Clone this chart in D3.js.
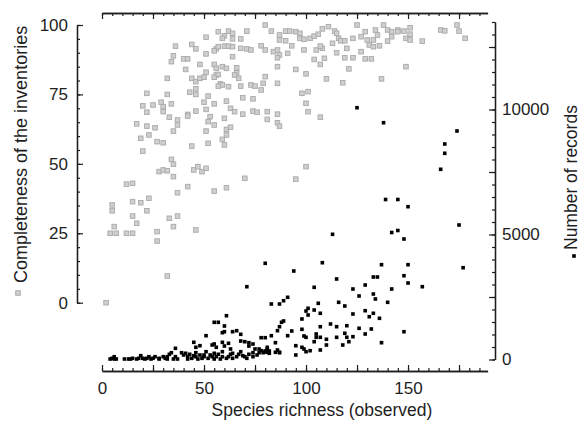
<!DOCTYPE html>
<html>
<head>
<meta charset="utf-8">
<script src="https://cdn.jsdelivr.net/npm/d3@7"></script>
<style>
body{margin:0;background:#fff}
svg{display:block}
</style>
</head>
<body>
<svg id="chart" width="582" height="422"></svg>
<script>
// completeness (%) against observed species richness
var completeness=[
[57,97.6],[60,96.1],[59,95.2],[51,95.6],[62,97.8],[36,92.4],[44,93.0],[46,91.4],[56,91.4],[55,90.7],[57,92.2],[60,92.4],[62,92.4],[35,88.9],[34,86.8],[40,87.8],[42,87.8],[51,89.6],[48,85.8],[55,85.8],[56,84.4],[56,82.0],[59,85.0],[61,84.4],[41,84.0],[32,80.8],[44,80.8],[46,79.6],[48,80.8],[50,81.2],[51,83.0],[55,81.2],[57,82.2],[58,78.8],[59,78.4],[62,77.8],[57,78.0],[43,75.8],[46,77.0],[46,75.0],[22,75.4],[32,75.0],[52,74.4],[61,72.6],[20,70.9],[25,71.2],[29,72.2],[30,70.6],[34,71.6],[22,68.6],[30,68.8],[50,72.2],[55,71.6],[42,67.8],[46,69.0],[51,69.6],
[64,97.0],[68,95.0],[64,95.0],[64,92.2],[68,91.6],[64,88.6],[71,97.8],[80,100],[83,97.8],[87,96.4],[90,97.8],[92,97.8],[95,97.6],[87,94.6],[90,94.3],[97,97.0],[97,95.2],[99,94.9],[102,95.2],[104,96.0],[106,96.7],[108,98.6],[111,99.4],[114,97.8],[115,97.0],[116,95.2],[117,94.3],[119,94.3],[123,95.2],[125,100],[71,91.4],[73,91.0],[78,92.5],[80,91.0],[84,90.4],[86,91.0],[87,89.2],[86,88.2],[91,89.8],[93,92.5],[99,91.0],[105,91.0],[108,91.6],[107,92.4],[113,93.4],[115,90.0],[120,91.6],[104,87.6],[107,85.8],[109,88.0],[119,88.2],[123,88.2],[121,84.2],[86,85.0],[95,84.0],[100,82.4],[66,84.6],[66,82.8],[65,82.0],[67,80.8],[80,81.4],[79,79.0],[86,79.0],[110,80.6],[118,79.2],[68,78.0],[73,78.4],[75,78.0],[78,76.6],[98,75.4],[101,76.0],[69,73.8],[74,73.4],[100,71.8],[63,70.0],[65,68.8],[74,69.0],[76,68.6],[81,68.8],[86,67.9],[69,67.9],[101,68.8],[107,66.8],[100,49.0],
[129,97.6],[127,95.8],[130,94.6],[133,94.6],[134,98.2],[135,96.4],[138,100],[140,98.2],[142,97.6],[142,95.8],[145,98.2],[145,97.6],[148,97.8],[149,95.2],[151,99.0],[151,96.7],[151,94.6],[131,92.8],[133,92.2],[136,92.5],[140,94.2],[157,94.2],[127,90.4],[129,87.8],[132,87.8],[149,85.0],[137,80.6],[166,98.2],[168,97.9],[174,100],[175,97.8],[178,95.2],
[33,66.8],[37,65.8],[37,64.0],[42,67.2],[53,67.0],[52,65.2],[55,64.0],[60,66.4],[81,66.0],[86,64.8],[87,63.6],[17,64.4],[22,63.6],[26,63.0],[23,60.4],[19,59.2],[35,61.8],[51,61.8],[61,62.4],[63,63.2],[61,60.4],[59,58.8],[60,56.8],[52,57.4],[44,56.4],[27,58.0],[30,57.6],[20,54.6],[34,51.6],[35,49.9],[28,47.2],[30,47.8],[32,47.5],[35,45.4],[45,47.8],[47,49.0],[49,47.2],[51,48.4],[70,44.8],[95,44.5],[12,42.7],[15,43.0],[42,41.8],[37,39.6],[55,40.2],[61,41.4],[5,35.2],[5,33.1],[15,36.4],[19,36.0],[23,37.6],[22,33.1],[15,31.2],[17,28.6],[6,27.4],[4,25.0],[7,25.0],[12,25.0],[15,25.0],[33,30.4],[37,31.2],[35,27.4],[27,25.6],[27,22.2],[46,26.2],[32,9.6],[2,0]
]

// number of records against observed species richness
var records=[
[125,10072],[138,9472],[174,9140],[168,8620],[168,8248],[166,7608],[139,6400],[145,6400],[150,6112],[175,5380],[113,5008],[142,5080],[145,5160],[148,4820],[80,3848],[94,3540],[108,3872],[137,3792],[150,3792],[177,3672],[115,3220],[133,3300],[135,3300],[148,3352],[150,3060],[157,2912],[71,2912],[104,2888],[123,2820],[129,2980],[142,2820],[133,2620],[134,2420],[126,2540],[106,2248],[116,2288],[119,2140],[140,2288],[101,2048],[100,1940],[101,1780],[104,1980],[98,1620],[107,1848],[123,1820],[129,1952],[131,1712],[133,1848],[136,1648],[93,1140],[98,1208],[99,940],[100,888],[105,1020],[107,1312],[112,1420],[115,1312],[120,1352],[126,1248],[132,1220],[148,1112],[105,888],[107,888],[110,808],[115,888],[119,1048],[120,888],[123,912],[129,1020],[95,552],[98,488],[99,420],[100,312],[102,352],[104,712],[110,580],[118,580],[121,712],[107,380],[137,672],[95,180],
[83,2220],[87,2220],[89,2352],[91,2488],[61,1752],[55,1488],[57,1488],[60,1340],[51,952],[59,1072],[60,1112],[64,1112],[66,1152],[68,1008],[88,1488],[89,1540],[87,1312],[86,1152],[83,952],[85,672],[91,952],[80,872],[78,872],[45,688],[46,488],[48,552],[54,580],[55,620],[56,488],[59,688],[60,540],[62,648],[63,420],[68,740],[70,712],[72,672],[74,620],[72,540],[75,420],[77,420],[80,340],[81,288],[81,488],[82,340],[85,288],[86,380],[87,288],[36,448],
[4,20],[5,48],[6,112],[7,20],[6,20],[11,20],[13,20],[14,20],[15,48],[17,20],[18,48],[19,152],[20,48],[21,20],[22,48],[23,112],[24,20],[25,48],[26,112],[28,20],[28,48],[30,112],[31,48],[32,20],[32,112],[33,208],[34,272],[35,20],[36,112],[37,20],[39,272],[40,180],[41,248],[42,112],[42,20],[43,208],[44,48],[45,152],[46,272],[46,112],[47,20],[48,180],[49,48],[50,112],[50,180],[51,312],[52,48],[53,180],[54,112],[55,20],[55,248],[56,112],[57,208],[58,20],[59,112],[59,312],[61,48],[62,112],[63,208],[64,48],[64,248],[66,112],[67,208],[68,312],[69,152],[70,112],[71,48],[72,208],[74,272],[74,112],[76,180],[77,272],[78,352],[79,272],[80,312],[81,408],[82,248],[87,272]
]

var xMajor=[0,25,50,75,100,125,150,175]
var xLabels=[0,50,100,150]
var leftMajor=[0,25,50,75,100]
var rightMajor=[0,2500,5000,7500,10000,12500]
var rightLabels=[0,5000,10000]

var FONT='Arial, "Liberation Sans", sans-serif'
var INK='#1e1e1e'
var svg=d3.select('#chart')

var x=d3.scaleLinear().domain([0,189]).range([102,487.6])
var yL=d3.scaleLinear().domain([0,100]).range([302.7,25])
var yR=d3.scaleLinear().domain([0,13500]).range([359.5,22])

function styleAxis(g){
    g.attr('font-family',FONT)
    g.select('.domain').attr('stroke',INK).attr('stroke-width',1.3)
    g.selectAll('.tick line').attr('stroke',INK).attr('stroke-width',1.2)
    g.selectAll('.tick text').attr('fill',INK).attr('font-size',17)
}

// bottom axis
svg.append('g').attr('transform','translate(0,371)')
    .call(d3.axisBottom(x).tickValues(d3.range(0,190,5)).tickSizeInner(-3).tickSizeOuter(0).tickFormat(''))
    .call(styleAxis)
svg.append('g').attr('transform','translate(0,371)')
    .call(d3.axisBottom(x).tickValues(xMajor).tickSizeInner(-6).tickSizeOuter(0).tickPadding(11)
        .tickFormat(d=>xLabels.indexOf(d)>=0?d:''))
    .call(styleAxis)
// top axis
svg.append('g').attr('transform','translate(0,13)')
    .call(d3.axisTop(x).tickValues(d3.range(0,190,5)).tickSizeInner(-3).tickSizeOuter(0).tickFormat(''))
    .call(styleAxis)
svg.append('g').attr('transform','translate(0,13)')
    .call(d3.axisTop(x).tickValues(xMajor).tickSizeInner(-6).tickSizeOuter(0).tickFormat(''))
    .call(styleAxis)
// left axis (completeness)
svg.append('g').attr('transform','translate(77,0)')
    .call(d3.axisLeft(yL).tickValues(d3.range(0,101,5)).tickSizeInner(-3).tickSizeOuter(0).tickFormat(''))
    .call(styleAxis)
svg.append('g').attr('transform','translate(77,0)')
    .call(d3.axisLeft(yL).tickValues(leftMajor).tickSizeInner(-6).tickSizeOuter(0).tickPadding(9))
    .call(styleAxis)
// right axis (records)
svg.append('g').attr('transform','translate(495,0)')
    .call(d3.axisRight(yR).tickValues(d3.range(0,13501,500)).tickSizeInner(-3).tickSizeOuter(0).tickFormat(''))
    .call(styleAxis)
svg.append('g').attr('transform','translate(495,0)')
    .call(d3.axisRight(yR).tickValues(rightMajor).tickSizeInner(-6).tickSizeOuter(0).tickPadding(7)
        .tickFormat(d=>rightLabels.indexOf(d)>=0?d:''))
    .call(styleAxis)

// points
var gs=4.6
svg.append('g').selectAll('rect')
    .data(completeness)
    .join('rect')
    .attr('x',d=>x(d[0])-gs/2)
    .attr('y',d=>yL(d[1])-gs/2)
    .attr('width',gs).attr('height',gs)
    .attr('fill','#cfcfcf')
    .attr('stroke','#a9a9a9')
    .attr('stroke-width',0.9)
var bs=3.6
svg.append('g').selectAll('rect')
    .data(records)
    .join('rect')
    .attr('x',d=>x(d[0])-bs/2)
    .attr('y',d=>yR(d[1])-bs/2)
    .attr('width',bs).attr('height',bs)
    .attr('fill','#000')

// titles
svg.append('text')
    .attr('transform','translate(27,283) rotate(-90)')
    .attr('font-family',FONT).attr('font-size',18).attr('fill',INK)
    .text('Completeness of the inventories')
svg.append('rect')
    .attr('x',18-gs/2).attr('y',293-gs/2).attr('width',gs).attr('height',gs)
    .attr('fill','#cfcfcf').attr('stroke','#a9a9a9').attr('stroke-width',0.9)
svg.append('text')
    .attr('transform','translate(577,250) rotate(-90)')
    .attr('font-family',FONT).attr('font-size',17.5).attr('fill',INK)
    .text('Number of records')
svg.append('rect')
    .attr('x',574-bs/2).attr('y',256-bs/2).attr('width',bs).attr('height',bs)
    .attr('fill','#000')
svg.append('text')
    .attr('x',322).attr('y',416)
    .attr('text-anchor','middle')
    .attr('font-family',FONT).attr('font-size',17.5).attr('fill',INK)
    .text('Species richness (observed)')
</script>
</body>
</html>
